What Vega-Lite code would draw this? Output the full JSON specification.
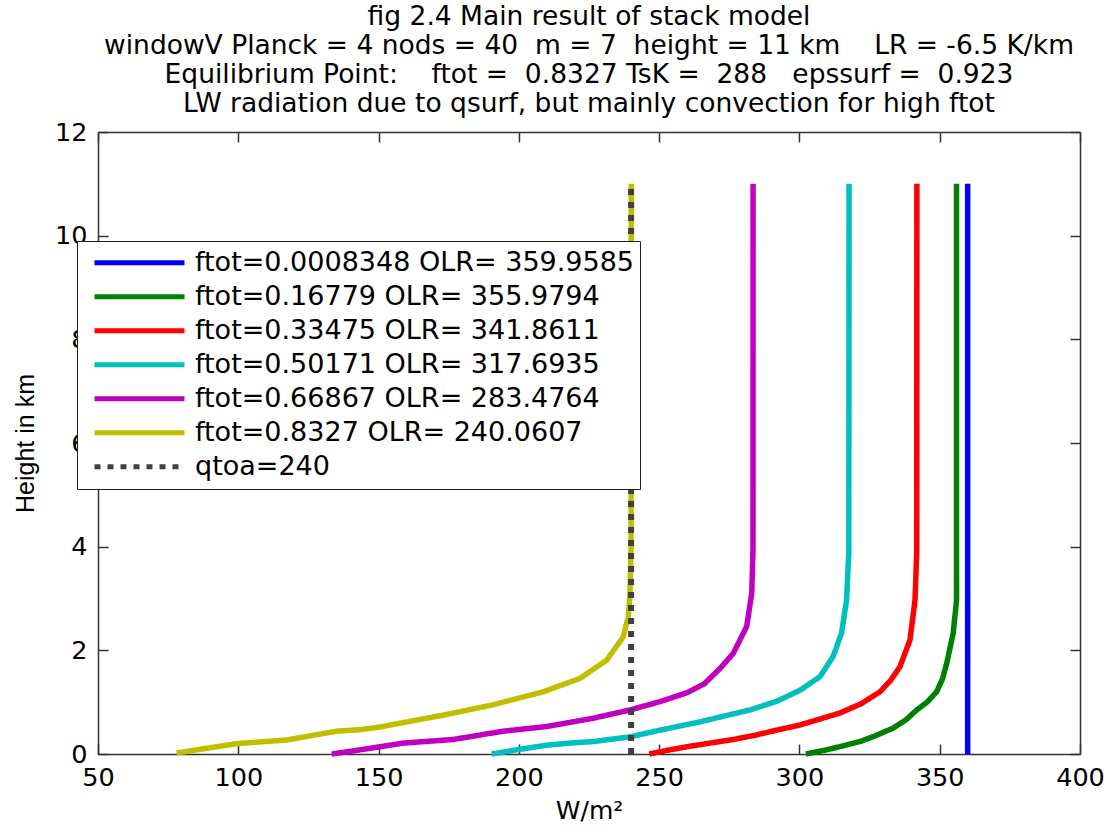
{
  "$schema": "https://vega.github.io/schema/vega-lite/v6.json",
  "width": 982,
  "height": 622,
  "autosize": {"type": "none"},
  "padding": {"left": 98, "top": 132, "right": 30, "bottom": 78},
  "background": "white",
  "config": {"font": "DejaVu Sans", "view": {"stroke": null}},
  "title": {
    "text": [
      "fig 2.4 Main result of stack model",
      "windowV Planck = 4 nods = 40 \u00a0m = 7 \u00a0height = 11 km \u00a0\u00a0\u00a0LR = -6.5 K/km",
      "Equilibrium Point: \u00a0\u00a0\u00a0ftot = \u00a00.8327 TsK = \u00a0288 \u00a0\u00a0epssurf = \u00a00.923",
      "LW radiation due to qsurf, but mainly convection for high ftot"
    ],
    "font": "DejaVu Sans",
    "fontSize": 26.5,
    "fontWeight": "normal",
    "lineHeight": 29,
    "color": "black",
    "anchor": "middle",
    "offset": 3
  },
  "datasets": {
    "curves": [
      {"series": "ftot=0.0008348 OLR= 359.9585", "W": 359.96, "h": 0},
      {"series": "ftot=0.0008348 OLR= 359.9585", "W": 359.96, "h": 11},
      {"series": "ftot=0.16779 OLR= 355.9794", "W": 302.3, "h": 0},
      {"series": "ftot=0.16779 OLR= 355.9794", "W": 305.0, "h": 0.03},
      {"series": "ftot=0.16779 OLR= 355.9794", "W": 309.7, "h": 0.08},
      {"series": "ftot=0.16779 OLR= 355.9794", "W": 315.0, "h": 0.15},
      {"series": "ftot=0.16779 OLR= 355.9794", "W": 321.6, "h": 0.24},
      {"series": "ftot=0.16779 OLR= 355.9794", "W": 327.0, "h": 0.35},
      {"series": "ftot=0.16779 OLR= 355.9794", "W": 333.4, "h": 0.5},
      {"series": "ftot=0.16779 OLR= 355.9794", "W": 338.0, "h": 0.66},
      {"series": "ftot=0.16779 OLR= 355.9794", "W": 341.8, "h": 0.85},
      {"series": "ftot=0.16779 OLR= 355.9794", "W": 345.5, "h": 1.0},
      {"series": "ftot=0.16779 OLR= 355.9794", "W": 348.9, "h": 1.2},
      {"series": "ftot=0.16779 OLR= 355.9794", "W": 351.0, "h": 1.45},
      {"series": "ftot=0.16779 OLR= 355.9794", "W": 352.5, "h": 1.75},
      {"series": "ftot=0.16779 OLR= 355.9794", "W": 354.8, "h": 2.33},
      {"series": "ftot=0.16779 OLR= 355.9794", "W": 356.0, "h": 2.97},
      {"series": "ftot=0.16779 OLR= 355.9794", "W": 355.98, "h": 4.0},
      {"series": "ftot=0.16779 OLR= 355.9794", "W": 355.98, "h": 11},
      {"series": "ftot=0.33475 OLR= 341.8611", "W": 246.5, "h": 0},
      {"series": "ftot=0.33475 OLR= 341.8611", "W": 253.8, "h": 0.08},
      {"series": "ftot=0.33475 OLR= 341.8611", "W": 261.0, "h": 0.15},
      {"series": "ftot=0.33475 OLR= 341.8611", "W": 268.1, "h": 0.21},
      {"series": "ftot=0.33475 OLR= 341.8611", "W": 276.4, "h": 0.28},
      {"series": "ftot=0.33475 OLR= 341.8611", "W": 284.0, "h": 0.36},
      {"series": "ftot=0.33475 OLR= 341.8611", "W": 291.9, "h": 0.46},
      {"series": "ftot=0.33475 OLR= 341.8611", "W": 300.2, "h": 0.56},
      {"series": "ftot=0.33475 OLR= 341.8611", "W": 307.0, "h": 0.67},
      {"series": "ftot=0.33475 OLR= 341.8611", "W": 314.4, "h": 0.79},
      {"series": "ftot=0.33475 OLR= 341.8611", "W": 322.0, "h": 0.97},
      {"series": "ftot=0.33475 OLR= 341.8611", "W": 328.7, "h": 1.2},
      {"series": "ftot=0.33475 OLR= 341.8611", "W": 332.5, "h": 1.42},
      {"series": "ftot=0.33475 OLR= 341.8611", "W": 335.8, "h": 1.68},
      {"series": "ftot=0.33475 OLR= 341.8611", "W": 339.4, "h": 2.2},
      {"series": "ftot=0.33475 OLR= 341.8611", "W": 341.2, "h": 2.97},
      {"series": "ftot=0.33475 OLR= 341.8611", "W": 341.8, "h": 3.9},
      {"series": "ftot=0.33475 OLR= 341.8611", "W": 341.86, "h": 11},
      {"series": "ftot=0.50171 OLR= 317.6935", "W": 190.3, "h": 0},
      {"series": "ftot=0.50171 OLR= 317.6935", "W": 199.2, "h": 0.08},
      {"series": "ftot=0.50171 OLR= 317.6935", "W": 209.9, "h": 0.17},
      {"series": "ftot=0.50171 OLR= 317.6935", "W": 218.0, "h": 0.21},
      {"series": "ftot=0.50171 OLR= 317.6935", "W": 226.5, "h": 0.24},
      {"series": "ftot=0.50171 OLR= 317.6935", "W": 239.6, "h": 0.33},
      {"series": "ftot=0.50171 OLR= 317.6935", "W": 250.3, "h": 0.46},
      {"series": "ftot=0.50171 OLR= 317.6935", "W": 264.5, "h": 0.62},
      {"series": "ftot=0.50171 OLR= 317.6935", "W": 282.4, "h": 0.85},
      {"series": "ftot=0.50171 OLR= 317.6935", "W": 292.0, "h": 1.02},
      {"series": "ftot=0.50171 OLR= 317.6935", "W": 300.2, "h": 1.23},
      {"series": "ftot=0.50171 OLR= 317.6935", "W": 307.3, "h": 1.49},
      {"series": "ftot=0.50171 OLR= 317.6935", "W": 312.0, "h": 1.88},
      {"series": "ftot=0.50171 OLR= 317.6935", "W": 315.0, "h": 2.33},
      {"series": "ftot=0.50171 OLR= 317.6935", "W": 316.8, "h": 2.97},
      {"series": "ftot=0.50171 OLR= 317.6935", "W": 317.6, "h": 3.9},
      {"series": "ftot=0.50171 OLR= 317.6935", "W": 317.69, "h": 11},
      {"series": "ftot=0.66867 OLR= 283.4764", "W": 133.3, "h": 0},
      {"series": "ftot=0.66867 OLR= 283.4764", "W": 143.4, "h": 0.08},
      {"series": "ftot=0.66867 OLR= 283.4764", "W": 150.5, "h": 0.14},
      {"series": "ftot=0.66867 OLR= 283.4764", "W": 158.8, "h": 0.21},
      {"series": "ftot=0.66867 OLR= 283.4764", "W": 176.6, "h": 0.28},
      {"series": "ftot=0.66867 OLR= 283.4764", "W": 194.4, "h": 0.44},
      {"series": "ftot=0.66867 OLR= 283.4764", "W": 209.9, "h": 0.53},
      {"series": "ftot=0.66867 OLR= 283.4764", "W": 226.5, "h": 0.69},
      {"series": "ftot=0.66867 OLR= 283.4764", "W": 239.6, "h": 0.85},
      {"series": "ftot=0.66867 OLR= 283.4764", "W": 250.3, "h": 1.01},
      {"series": "ftot=0.66867 OLR= 283.4764", "W": 259.8, "h": 1.18},
      {"series": "ftot=0.66867 OLR= 283.4764", "W": 266.0, "h": 1.35},
      {"series": "ftot=0.66867 OLR= 283.4764", "W": 271.7, "h": 1.65},
      {"series": "ftot=0.66867 OLR= 283.4764", "W": 276.4, "h": 1.94},
      {"series": "ftot=0.66867 OLR= 283.4764", "W": 281.2, "h": 2.46},
      {"series": "ftot=0.66867 OLR= 283.4764", "W": 283.0, "h": 3.1},
      {"series": "ftot=0.66867 OLR= 283.4764", "W": 283.45, "h": 3.94},
      {"series": "ftot=0.66867 OLR= 283.4764", "W": 283.48, "h": 11},
      {"series": "ftot=0.8327 OLR= 240.0607", "W": 78.0, "h": 0.02},
      {"series": "ftot=0.8327 OLR= 240.0607", "W": 87.5, "h": 0.1},
      {"series": "ftot=0.8327 OLR= 240.0607", "W": 99.4, "h": 0.2},
      {"series": "ftot=0.8327 OLR= 240.0607", "W": 117.2, "h": 0.27},
      {"series": "ftot=0.8327 OLR= 240.0607", "W": 135.1, "h": 0.44},
      {"series": "ftot=0.8327 OLR= 240.0607", "W": 143.4, "h": 0.47},
      {"series": "ftot=0.8327 OLR= 240.0607", "W": 150.5, "h": 0.52},
      {"series": "ftot=0.8327 OLR= 240.0607", "W": 155.2, "h": 0.57},
      {"series": "ftot=0.8327 OLR= 240.0607", "W": 173.1, "h": 0.75},
      {"series": "ftot=0.8327 OLR= 240.0607", "W": 190.9, "h": 0.95},
      {"series": "ftot=0.8327 OLR= 240.0607", "W": 208.7, "h": 1.2},
      {"series": "ftot=0.8327 OLR= 240.0607", "W": 221.8, "h": 1.46},
      {"series": "ftot=0.8327 OLR= 240.0607", "W": 231.3, "h": 1.81},
      {"series": "ftot=0.8327 OLR= 240.0607", "W": 237.2, "h": 2.26},
      {"series": "ftot=0.8327 OLR= 240.0607", "W": 239.0, "h": 2.65},
      {"series": "ftot=0.8327 OLR= 240.0607", "W": 239.6, "h": 3.1},
      {"series": "ftot=0.8327 OLR= 240.0607", "W": 240.0, "h": 4.0},
      {"series": "ftot=0.8327 OLR= 240.0607", "W": 240.06, "h": 11}
    ],
    "qtoa": [
      {"series": "qtoa=240", "W": 240, "h": 0},
      {"series": "qtoa=240", "W": 240, "h": 11}
    ]
  },
  "resolve": {"axis": {"x": "independent", "y": "independent"}},
  "layer": [
    {
      "data": {"name": "curves"},
      "mark": {"type": "line", "strokeWidth": 5.5, "strokeCap": "butt", "strokeJoin": "round"},
      "encoding": {
        "x": {
          "field": "W", "type": "quantitative",
          "scale": {"domain": [50, 400], "nice": false, "zero": false},
          "axis": {
            "orient": "bottom", "values": [50, 100, 150, 200, 250, 300, 350, 400],
            "grid": false, "tickSize": -10, "labelPadding": 21,
            "labelFont": "DejaVu Sans", "labelFontSize": 25.5, "labelColor": "black",
            "domainColor": "#333333", "domainWidth": 1.5, "tickColor": "#333333", "tickWidth": 1.5,
            "labelFlush": false,
            "title": "W/m²", "titleFont": "DejaVu Sans", "titleFontSize": 25, "titleFontWeight": "normal",
            "titleColor": "black", "titlePadding": 8
          }
        },
        "y": {
          "field": "h", "type": "quantitative",
          "scale": {"domain": [0, 12], "nice": false, "zero": false},
          "axis": {
            "orient": "left", "values": [0, 2, 4, 6, 8, 10, 12],
            "grid": false, "tickSize": -10, "labelPadding": 21,
            "labelFont": "DejaVu Sans", "labelFontSize": 25.5, "labelColor": "black",
            "domainColor": "#333333", "domainWidth": 1.5, "tickColor": "#333333", "tickWidth": 1.5,
            "labelFlush": false,
            "title": "Height in km", "titleFont": "Liberation Sans", "titleFontSize": 25, "titleFontWeight": "normal",
            "titleColor": "black", "titlePadding": 16
          }
        },
        "order": {"field": "h", "type": "quantitative"},
        "color": {
          "field": "series", "type": "nominal",
          "scale": {
            "domain": ["ftot=0.0008348 OLR= 359.9585", "ftot=0.16779 OLR= 355.9794", "ftot=0.33475 OLR= 341.8611", "ftot=0.50171 OLR= 317.6935", "ftot=0.66867 OLR= 283.4764", "ftot=0.8327 OLR= 240.0607", "qtoa=240"],
            "range": ["#0000ff", "#008000", "#ff0000", "#00bfbf", "#bf00bf", "#bfbf00", "#404040"]
          },
          "legend": {
            "title": null, "orient": "none", "legendX": -21, "legendY": 109,
            "symbolType": "stroke", "symbolSize": 8100, "symbolStrokeWidth": 5,
            "clipHeight": 33.3, "rowPadding": 0, "padding": 5,
            "labelFont": "DejaVu Sans", "labelFontSize": 27, "labelColor": "black", "labelLimit": 1000,
            "labelOffset": 8, "symbolOffset": 10,
            "strokeColor": "#222222", "fillColor": "white"
          }
        },
        "strokeDash": {
          "field": "series", "type": "nominal",
          "scale": {
            "domain": ["ftot=0.0008348 OLR= 359.9585", "ftot=0.16779 OLR= 355.9794", "ftot=0.33475 OLR= 341.8611", "ftot=0.50171 OLR= 317.6935", "ftot=0.66867 OLR= 283.4764", "ftot=0.8327 OLR= 240.0607", "qtoa=240"],
            "range": [[1, 0], [1, 0], [1, 0], [1, 0], [1, 0], [1, 0], [6, 7]]
          },
          "legend": {
            "title": null, "orient": "none", "legendX": -21, "legendY": 109,
            "symbolType": "stroke", "symbolSize": 8100, "symbolStrokeWidth": 5,
            "clipHeight": 33.3, "rowPadding": 0, "padding": 5,
            "labelFont": "DejaVu Sans", "labelFontSize": 27, "labelColor": "black", "labelLimit": 1000,
            "labelOffset": 8, "symbolOffset": 10,
            "strokeColor": "#222222", "fillColor": "white"
          }
        }
      }
    },
    {
      "data": {"name": "qtoa"},
      "mark": {"type": "line", "strokeWidth": 6, "strokeCap": "butt"},
      "encoding": {
        "x": {
          "field": "W", "type": "quantitative",
          "axis": {
            "orient": "top", "values": [50, 100, 150, 200, 250, 300, 350, 400],
            "grid": false, "tickSize": -10, "labels": false, "title": null,
            "domainColor": "#333333", "domainWidth": 1.5, "tickColor": "#333333", "tickWidth": 1.5
          }
        },
        "y": {
          "field": "h", "type": "quantitative",
          "axis": {
            "orient": "right", "values": [0, 2, 4, 6, 8, 10, 12],
            "grid": false, "tickSize": -10, "labels": false, "title": null,
            "domainColor": "#333333", "domainWidth": 1.5, "tickColor": "#333333", "tickWidth": 1.5
          }
        },
        "order": {"field": "h", "type": "quantitative"},
        "color": {"field": "series", "type": "nominal"},
        "strokeDash": {"field": "series", "type": "nominal"}
      }
    }
  ]
}
